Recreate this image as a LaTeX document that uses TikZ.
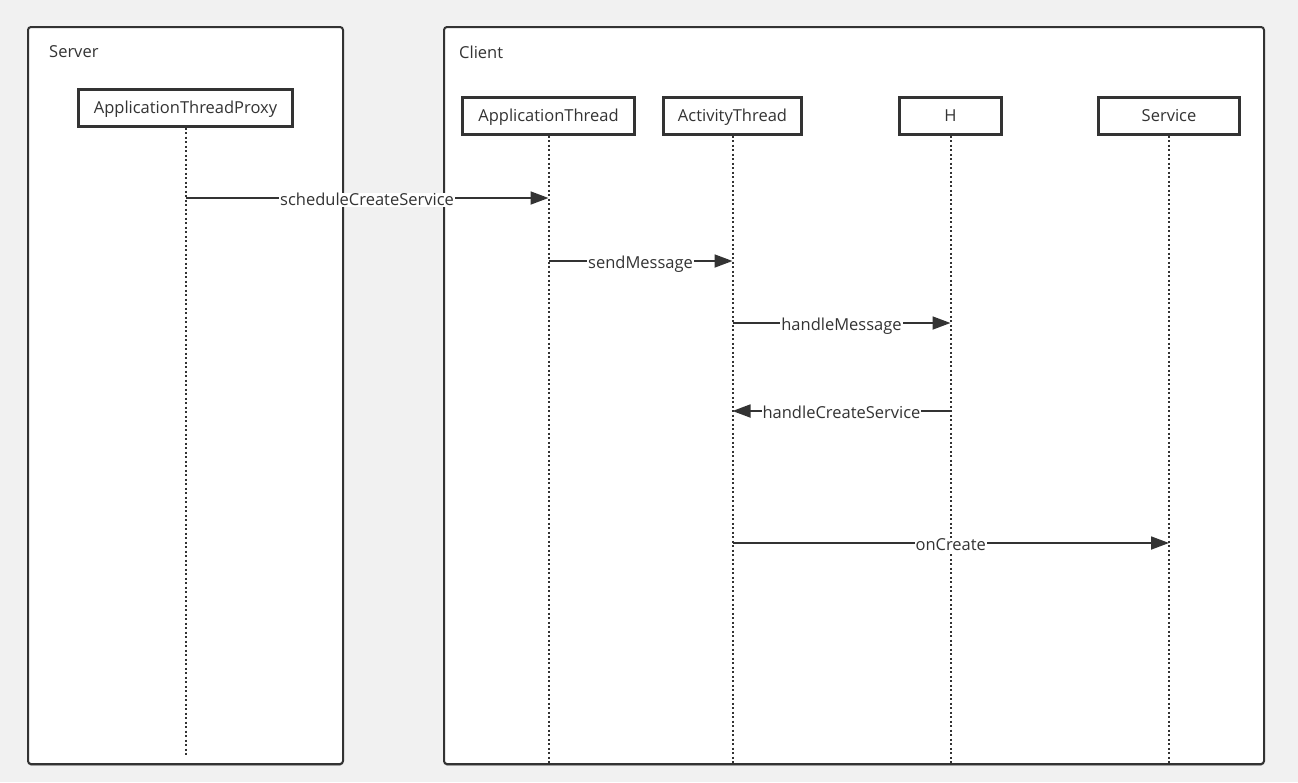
\documentclass[tikz,border=0pt]{standalone}
\usepackage{fontspec}
\setmainfont{Open Sans}
\usetikzlibrary{
  calc,positioning,shadows,
  arrows.meta
}
\definecolor{ink}{HTML}{333333}
\definecolor{pagegray}{HTML}{F1F1F1}
\tikzset{
  frame/.style={draw=ink,line width=2pt,fill=white,rounded corners=3pt,
    drop shadow={shadow xshift=0pt,shadow yshift=-1.6pt,opacity=.55,fill=ink}},
  actor/.style={draw=ink,line width=2.2pt,fill=white,minimum height=37pt,
    inner xsep=0pt,text=ink,text height=11.8pt,text depth=0pt},
  lifeline/.style={draw=ink,line width=2pt,dash pattern=on 2pt off 2.5pt},
  msg/.style={draw=ink,line width=1.8pt,-{Triangle[length=18pt,width=13pt]}},
  msglabel/.style={fill=white,inner sep=1pt,text=ink,text height=11.8pt,
    text depth=0pt,yshift=-2pt}
}

\begin{document}
\begin{tikzpicture}[x=1pt,y=-1pt,font=\fontsize{16.5}{19}\selectfont]

\fill[pagegray] (0,0) rectangle (1298,782);
\useasboundingbox (0,0) rectangle (1298,782);

% the two frames
\draw[frame] (28,27) rectangle (343,764);
\draw[frame] (444,27) rectangle (1264,764);
\node[anchor=west,inner sep=0pt,text=ink] (server) at (49,52) {Server};
\node[anchor=west,inner sep=0pt,text=ink] (client) at (459,52) {Client};

% participants
\node[actor,minimum width=214pt] (proxy) at (185.5,108) {ApplicationThreadProxy};
\node[actor,minimum width=172pt] (athread) at (548.5,116) {ApplicationThread};
\node[actor,minimum width=138pt] (actthread) at (732.5,116) {ActivityThread};
\node[actor,minimum width=102pt] (handler) at (950.5,116) {H};
\node[actor,minimum width=141pt] (service) at (1169,116) {Service};

% lifelines
\coordinate (srvbottom) at (0,755);
\coordinate (clibottom) at (0,763);
\draw[lifeline] (proxy.south) -- (proxy |- srvbottom);
\foreach \p in {athread,actthread,handler,service}
  \draw[lifeline] (\p.south) -- (\p |- clibottom);

% messages
\coordinate (row1) at (0,198);
\coordinate (row2) at (0,261);
\coordinate (row3) at (0,323);
\coordinate (row4) at (0,411);
\coordinate (row5) at (0,543);
\draw[msg] (proxy |- row1) -- node[msglabel] (schedule) {scheduleCreateService} (athread |- row1);
\draw[msg] (athread |- row2) -- node[msglabel] (send) {sendMessage} (actthread |- row2);
\draw[msg] (actthread |- row3) -- node[msglabel] (handle) {handleMessage} (handler |- row3);
\draw[msg] (handler |- row4) -- node[msglabel] (create) {handleCreateService} (actthread |- row4);
\draw[msg] (actthread |- row5) -- node[msglabel] (oncreate) {onCreate} (service |- row5);
\end{tikzpicture}
\end{document}
